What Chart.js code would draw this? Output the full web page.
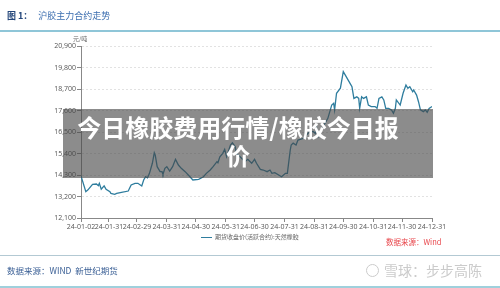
<!DOCTYPE html>
<html>
<head>
<meta charset="utf-8">
<script src="https://cdn.jsdelivr.net/npm/chart.js@4/dist/chart.umd.min.js"></script>
<style>
body { margin: 0; background: #fff; }
#wrap { position: relative; width: 500px; height: 288px; overflow: hidden; background: #fff;
        font-family: "Noto Sans CJK SC", "Noto Sans", sans-serif; }
#chart { position: absolute; left: 0; top: 0; }
.abs { position: absolute; white-space: nowrap; }
#title { left: 7px; top: 9px; font-size: 9px; color: #3d6fb0; }
#title b { color: #24467a; margin-right: 6px; }
#topRule { left: 0; top: 30px; width: 500px; height: 2px; background: #8fc6d8; }
#unit { left: 73px; top: 34px; font-size: 6px; color: #666; }
#legend { left: 201px; top: 232px; font-size: 6px; color: #666; }
#legend i { display: inline-block; width: 11px; height: 1.5px; background: #2e7d9e; vertical-align: middle; margin-right: 3px; }
#source { left: 386px; top: 236px; font-size: 7.5px; color: #e8464b; }
#footRule { left: 0; top: 255px; width: 500px; height: 1px; background: #b3c9d3; }
#foot { left: 7px; top: 264px; font-size: 8.5px; color: #3a5f95; }
#mark { left: 366px; top: 260px; font-size: 14px; color: #cbcbcb; }
#mark span { display: inline-block; width: 11px; height: 11px; border: 1.5px solid #cbcbcb; border-radius: 50%;
             vertical-align: -1px; margin-right: 5px; }
#bottomRule { left: 0; top: 286px; width: 500px; height: 2px; background: #9fd0dc; }
#shade { left: 63px; top: 109px; width: 370px; height: 69px; background: rgba(70, 70, 70, 0.62); }
#headline { left: 58px; top: 113px; width: 360px; text-align: center; color: #fff; font-size: 24px;
            font-weight: 700; line-height: 28px; white-space: normal; }
</style>
</head>
<body>
<div id="wrap">
    <canvas id="chart" width="500" height="288"></canvas>
    <div class="abs" id="title"><b>图 1：</b>沪胶主力合约走势</div>
    <div class="abs" id="topRule"></div>
    <div class="abs" id="unit">元/吨</div>
    <div class="abs" id="legend"><i></i>期货收盘价(活跃合约):天然橡胶</div>
    <div class="abs" id="source">数据来源：Wind</div>
    <div class="abs" id="footRule"></div>
    <div class="abs" id="foot">数据来源：WIND&nbsp;&nbsp;新世纪期货</div>
    <div class="abs" id="mark"><span></span>雪球：步步高陈</div>
    <div class="abs" id="bottomRule"></div>
    <div class="abs" id="shade"></div>
    <div class="abs" id="headline">今日橡胶费用行情/橡胶今日报<br>价</div>
</div>
<script>
// days counted from 2024-01-02
const dayOffsets = [
    0, 5, 7, 12, 16, 18, 19, 21, 24, 26, 30, 31, 35, 37, 42, 49, 52, 56, 59, 63,
    65, 67, 69, 71, 74, 76, 77, 79, 82, 84, 85, 87, 89, 92, 95, 98, 101, 104, 108, 113,
    116, 122, 127, 130, 134, 137, 141, 142, 144, 147, 149, 151, 155, 157, 160, 161, 165, 170, 173, 177,
    180, 182, 186, 189, 193, 196, 198, 201, 205, 208, 212, 214, 217, 218, 220, 223, 225, 231, 234, 237,
    241, 243, 244, 246, 249, 251, 256, 260, 262, 263, 265, 269, 272, 275, 279, 281, 283, 286, 288, 289,
    291, 293, 296, 298, 301, 305, 307, 309, 312, 314, 316, 319, 322, 324, 326, 327, 331, 334, 337, 339,
    341, 344, 345, 348, 350, 352, 355, 357, 359, 361, 364
];
const closePrices = [
    14250, 13445, 13530, 13820, 13840, 13750, 13875, 13570, 13740, 13570, 13445, 13360, 13310, 13360, 13415, 13480, 13790, 13875, 13875, 13740,
    14045, 14215, 14160, 14385, 14900, 15440, 15320, 14725, 14470, 14470, 14335, 14640, 14725, 14505, 14725, 15100, 14810, 14640, 14470, 14210,
    14045, 14080, 14210, 14385, 14555, 14725, 14980, 14930, 15235, 15410, 15615, 15235, 15835, 15950, 15750, 15410, 15235, 14980, 15100, 14900,
    15100, 14900, 14590, 14555, 14470, 14555, 14385, 14420, 14300, 14210, 14385, 14385, 15580, 15835, 15930, 15835, 16090, 16180, 16350, 16515,
    16515, 16430, 16770, 16260, 16600, 16770, 17200, 17880, 17970, 17630, 18480, 18740, 19590, 19330, 18990, 18820, 18220, 18300, 18220, 17710,
    18300, 18220, 18300, 17880, 17800, 17800, 17710, 18220, 18300, 18140, 17710, 17710, 17630, 17460, 17710, 18140, 17880, 18480, 18900, 18740,
    18820, 18560, 18650, 18390, 18050, 17630, 17540, 17630, 17510, 17710, 17800
];
const tickDays = [0, 29, 58, 89, 119, 150, 180, 211, 242, 272, 303, 333, 364];
const tickLabels = ["24-01-02", "24-01-31", "24-02-29", "24-03-31", "24-04-30", "24-05-31", "24-06-30",
                    "24-07-31", "24-08-31", "24-09-30", "24-10-31", "24-11-30", "24-12-31"];
const priceTicks = [12100, 13200, 14300, 15400, 16500, 17600, 18700, 19800, 20900];

const tickFont = { size: 7, family: "'Open Sans', 'DejaVu Sans', sans-serif" };

const ctx = document.getElementById("chart").getContext("2d");
new Chart(ctx, {
    type: "line",
    data: {
        datasets: [{
            data: dayOffsets.map((d, i) => ({ x: d, y: closePrices[i] })),
            borderColor: "#2e7d9e",
            borderWidth: 1.3,
            pointRadius: 0,
            tension: 0
        }]
    },
    options: {
        responsive: false,
        animation: false,
        layout: { padding: { left: 0, right: 68, top: 46, bottom: 50 } },
        plugins: { legend: { display: false }, tooltip: { enabled: false } },
        scales: {
            x: {
                type: "linear",
                min: 0,
                max: 364,
                afterBuildTicks: scale => { scale.ticks = tickDays.map(v => ({ value: v })); },
                afterFit: scale => { scale.height = 20; },
                ticks: {
                    autoSkip: false,
                    maxRotation: 0,
                    padding: 1,
                    color: "#555",
                    font: tickFont,
                    callback: value => tickLabels[tickDays.indexOf(value)]
                },
                grid: { drawOnChartArea: false, tickLength: 4, tickColor: "#888" },
                border: { color: "#888" }
            },
            y: {
                min: 12100,
                max: 20900,
                afterBuildTicks: scale => { scale.ticks = priceTicks.map(v => ({ value: v })); },
                afterFit: scale => { scale.width = 81; },
                ticks: {
                    padding: 1,
                    color: "#555",
                    font: tickFont,
                    callback: value => value.toLocaleString("en-US")
                },
                grid: { color: "#e2e2e2", tickLength: 4, tickColor: "#888" },
                border: { color: "#888", dash: [2, 2] }
            }
        }
    }
});
</script>
</body>
</html>
